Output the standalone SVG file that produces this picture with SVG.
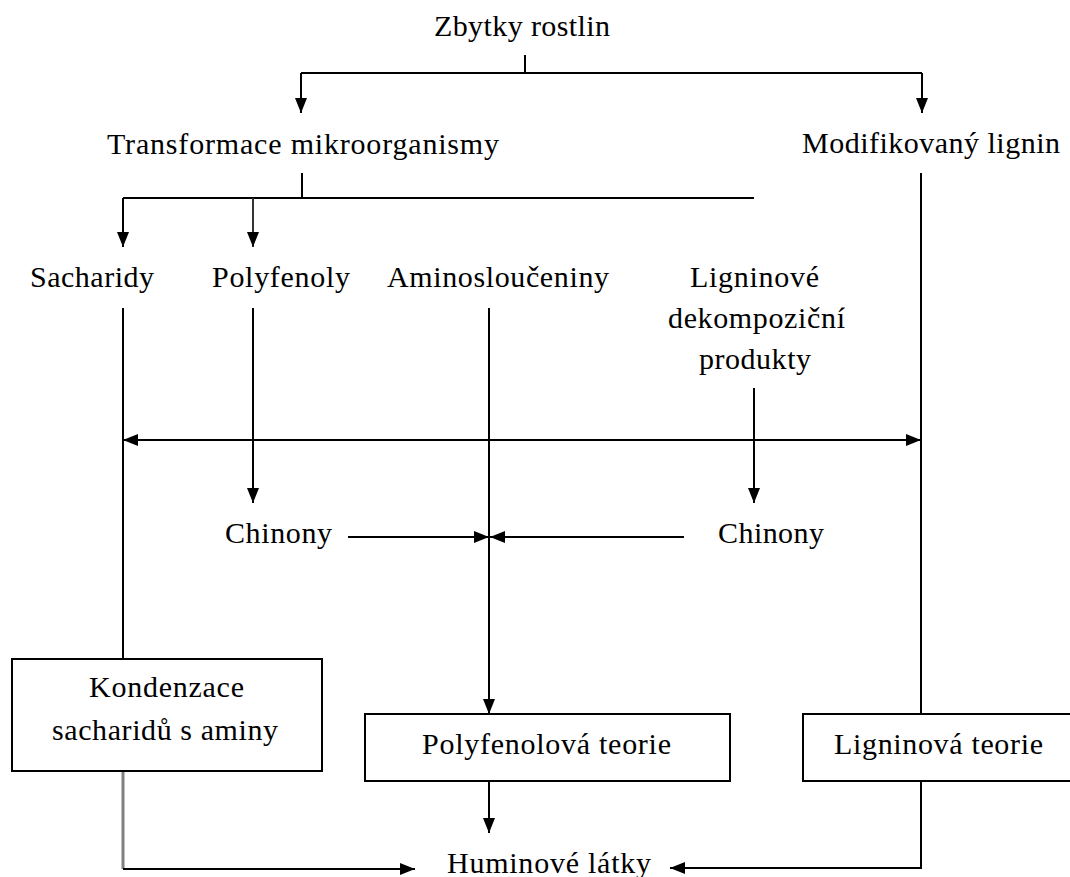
<svg xmlns="http://www.w3.org/2000/svg" width="1070" height="877" viewBox="0 0 1070 877" font-family="Liberation Serif, Times New Roman, serif" font-size="30">
<style>
  .t { font-family: "Liberation Serif", "Times New Roman", serif; font-size: 30px; fill: #000; }
  .c { fill: none; stroke: #000; stroke-width: 2; }
  .a { marker-end: url(#arr); }
  .box { fill: #fff; stroke: #000; stroke-width: 2; }
</style>
<defs>
  <marker id="arr" markerUnits="userSpaceOnUse" markerWidth="15" markerHeight="12" refX="15" refY="6" orient="auto-start-reverse">
    <path d="M0,0 L15,6 L0,12 z" fill="#000"/>
  </marker>
</defs>
<rect width="1070" height="877" fill="#fff"/>
<g id="connectors">
  <path class="c" d="M525,55 V73"/>
  <path class="c" d="M301,73 H922"/>
  <path class="c a" d="M301,73 V113"/>
  <path class="c a" d="M922,73 V113"/>
  <path class="c" d="M302,173 V198"/>
  <path class="c" d="M123,198 H754"/>
  <path class="c a" d="M123,198 V247"/>
  <path class="c a" d="M253,198 V247" style="stroke:#333"/>
  <path class="c" d="M921,173 V714"/>
  <path class="c" d="M123,308 V659"/>
  <path class="c a" d="M253,308 V503"/>
  <path class="c a" d="M489,308 V714"/>
  <path class="c a" d="M754,388 V503"/>
  <path class="c a" d="M123,440 H921" style="marker-start:url(#arr)"/>
  <path class="c a" d="M348,537 H489"/>
  <path class="c a" d="M684,537 H490"/>
  <path class="c a" d="M489,781 V833"/>
  <path d="M123,771 V869" fill="none" stroke="#808080" stroke-width="3"/>
  <path class="c a" d="M123,869 H415"/>
  <path class="c a" d="M921,781 V868 H670"/>
</g>
<g id="zbytky"><text class="t" x="434" y="36" textLength="176" lengthAdjust="spacing">Zbytky rostlin</text></g>
<g id="transformace"><text class="t" x="107" y="154" textLength="392" lengthAdjust="spacing">Transformace mikroorganismy</text></g>
<g id="modifikovany"><text class="t" x="802" y="153" textLength="258" lengthAdjust="spacing">Modifikovaný lignin</text></g>
<g id="sacharidy"><text class="t" x="30" y="287" textLength="124" lengthAdjust="spacing">Sacharidy</text></g>
<g id="polyfenoly"><text class="t" x="212" y="287" textLength="138" lengthAdjust="spacing">Polyfenoly</text></g>
<g id="aminoslouceniny"><text class="t" x="387" y="287" textLength="222" lengthAdjust="spacing">Aminosloučeniny</text></g>
<g id="ligninove-produkty">
  <text class="t" x="690" y="287" textLength="129" lengthAdjust="spacing">Ligninové</text>
  <text class="t" x="668" y="328" textLength="177" lengthAdjust="spacing">dekompoziční</text>
  <text class="t" x="699" y="369" textLength="112" lengthAdjust="spacing">produkty</text>
</g>
<g id="chinony-1"><text class="t" x="225" y="543" textLength="107" lengthAdjust="spacing">Chinony</text></g>
<g id="chinony-2"><text class="t" x="718" y="543" textLength="106" lengthAdjust="spacing">Chinony</text></g>
<g id="kondenzace">
  <rect class="box" x="12" y="659" width="310" height="112"/>
  <text class="t" x="89" y="697" textLength="155" lengthAdjust="spacing">Kondenzace</text>
  <text class="t" x="52" y="740" textLength="226" lengthAdjust="spacing">sacharidů s aminy</text>
</g>
<g id="polyfenolova-teorie">
  <rect class="box" x="365" y="714" width="365" height="67"/>
  <text class="t" x="422" y="754" textLength="249" lengthAdjust="spacing">Polyfenolová teorie</text>
</g>
<g id="ligninova-teorie">
  <rect class="box" x="803" y="714" width="270" height="67"/>
  <text class="t" x="834" y="754" textLength="209" lengthAdjust="spacing">Ligninová teorie</text>
</g>
<g id="huminove-latky"><text class="t" x="447" y="873" textLength="204" lengthAdjust="spacing">Huminové látky</text></g>
</svg>
